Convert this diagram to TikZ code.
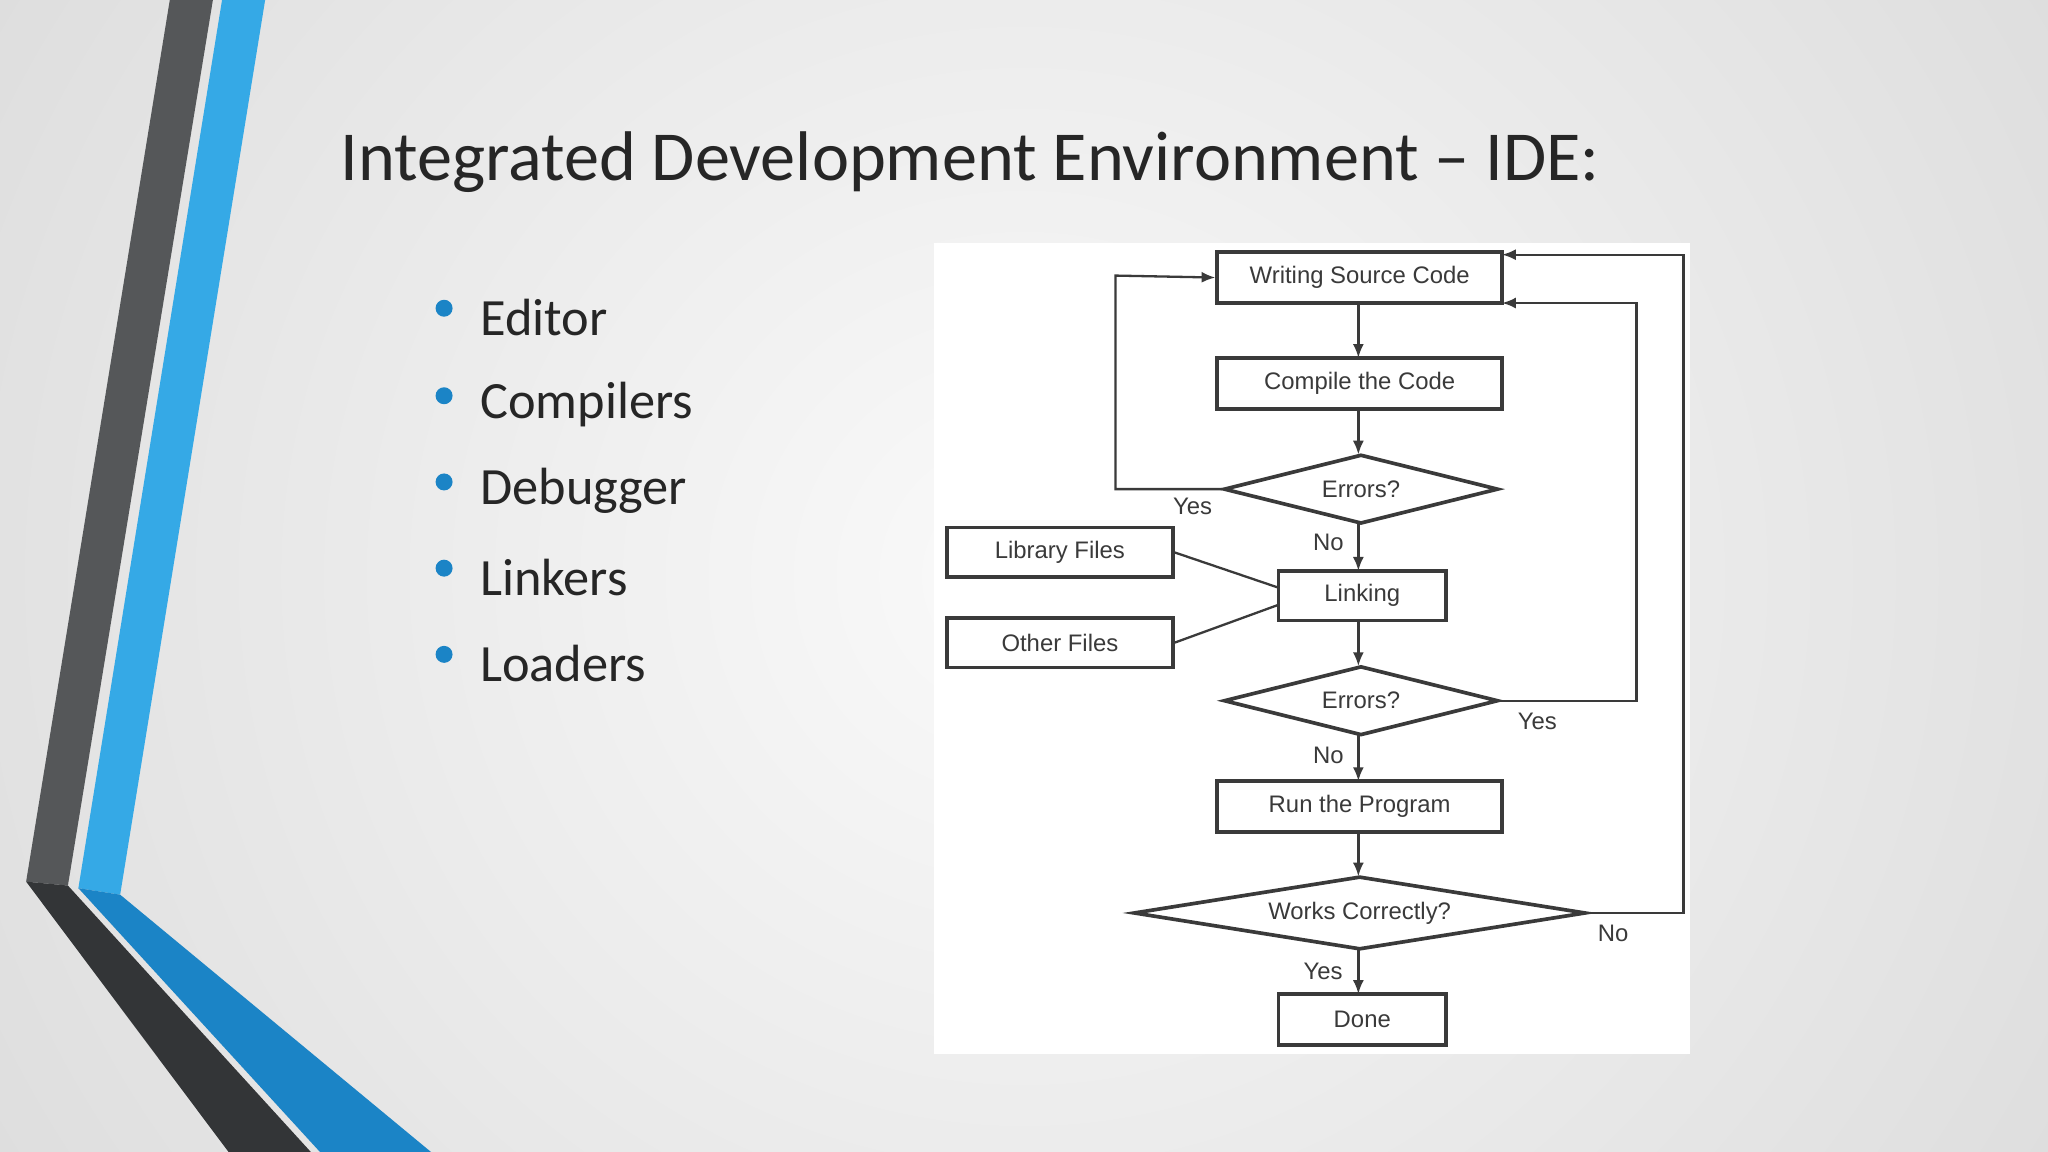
\documentclass[tikz,border=0pt]{standalone}
\usepackage{fontspec}
\setmainfont{Carlito}
\newfontfamily\fc{Liberation Sans}
\usetikzlibrary{shapes.geometric,arrows.meta}
\definecolor{dg}{HTML}{555759}
\definecolor{ddg}{HTML}{333537}
\definecolor{lb}{HTML}{35A9E6}
\definecolor{db}{HTML}{1B84C6}
\definecolor{ln}{HTML}{3A3A3A}
\begin{document}
\begin{tikzpicture}[x=0.01cm,y=-0.01cm,
  box/.style={draw=ln,line width=0.8pt,fill=white,inner sep=0pt,font=\fc\fontsize{5.2}{6}\selectfont,text=ln},
  dia/.style={draw=ln,line width=0.8pt,fill=white,diamond,aspect=4,inner sep=0pt,font=\fc\fontsize{5.2}{6}\selectfont,text=ln},
  lab/.style={font=\fc\fontsize{5.2}{6}\selectfont,text=ln},
  con/.style={draw=ln,line width=0.5pt},
  arr/.style={con,-{Latex[length=3pt,width=2.4pt]}},
  bul/.style={anchor=west,font=\fontsize{11.4}{13}\selectfont,text=black!85}]
\useasboundingbox (0,0) rectangle (1568,882);
\shade[inner color=gray!4,outer color=gray!30] (-300,-600) rectangle (1868,1482);
% left decoration
\fill[dg] (130,0)--(163,0)--(52,678)--(20,675)--cycle;
\fill[ddg] (20,675)--(52,678)--(238,882)--(175,882)--cycle;
\fill[lb] (170,0)--(203,0)--(92,685)--(60,680)--cycle;
\fill[db] (60,680)--(92,685)--(330,882)--(245,882)--cycle;
% title
\node[anchor=west,inner sep=0pt,font=\fontsize{15.3}{18}\selectfont,text=black!85] (title) at (260,124) {Integrated Development Environment -- IDE:};
% bullets
\foreach \t/\y [count=\i] in {Editor/243,Compilers/310,Debugger/376,Linkers/442,Loaders/508}{
  \fill[db] (340,\y-7) circle (6.5);
  \node[bul,inner sep=0pt] (b\i) at (367,\y) {\t};
}
% flowchart
\fill[white] (715,186) rectangle (1294,807);
\node[box,minimum width=2.18cm,minimum height=0.39cm] (w) at (1041,212.5) {Writing Source Code};
\node[box,minimum width=2.18cm,minimum height=0.39cm] (c) at (1041,293.5) {Compile the Code};
\node[dia,minimum width=2.10cm,minimum height=0.53cm] (e1) at (1042,374.5) {Errors?};
\node[box,minimum width=1.73cm,minimum height=0.38cm] (lf) at (811.5,423) {Library Files};
\node[box,minimum width=1.28cm,minimum height=0.38cm] (lk) at (1043,456) {Linking};
\node[box,minimum width=1.73cm,minimum height=0.38cm] (of) at (811.5,492) {Other Files};
\node[dia,minimum width=2.10cm,minimum height=0.53cm] (e2) at (1042,536.5) {Errors?};
\node[box,minimum width=2.18cm,minimum height=0.39cm] (r) at (1041,617.5) {Run the Program};
\node[dia,minimum width=3.46cm,minimum height=0.56cm] (wc) at (1041,699) {Works Correctly?};
\node[box,minimum width=1.28cm,minimum height=0.39cm] (d) at (1043,780.5) {Done};
\draw[arr] (1040,232) -- (1040,274);
\draw[arr] (1040,313) -- (1040,348);
\draw[arr] (1040,401) -- (1040,437);
\draw[arr] (1040,475) -- (1040,510);
\draw[arr] (1040,563) -- (1040,598);
\draw[arr] (1040,637) -- (1040,671);
\draw[arr] (1040,727) -- (1040,761);
\coordinate (p1) at (854,374.5); \coordinate (p2) at (854,211);
\draw[arr] (e1.west) -- (p1) -- (p2) -- (w.west);
\coordinate (p3) at (1253,536.5); \coordinate (p4) at (1253,232); \coordinate (q4) at (1150,232);
\draw[arr] (e2.east) -- (p3) -- (p4) -- (q4);
\coordinate (p5) at (1289,699); \coordinate (p6) at (1289,195); \coordinate (q6) at (1150,195);
\draw[arr] (wc.east) -- (p5) -- (p6) -- (q6);
\draw[con] (lf.east) -- (979,450);
\draw[con] (of.east) -- (979,463);
\node[lab] (y1) at (913,388) {Yes};
\node[lab] (n1) at (1017,415) {No};
\node[lab] (y2) at (1177,552) {Yes};
\node[lab] (n2) at (1017,578) {No};
\node[lab] (n3) at (1235,715) {No};
\node[lab] (y3) at (1013,744) {Yes};
\end{tikzpicture}
\end{document}
